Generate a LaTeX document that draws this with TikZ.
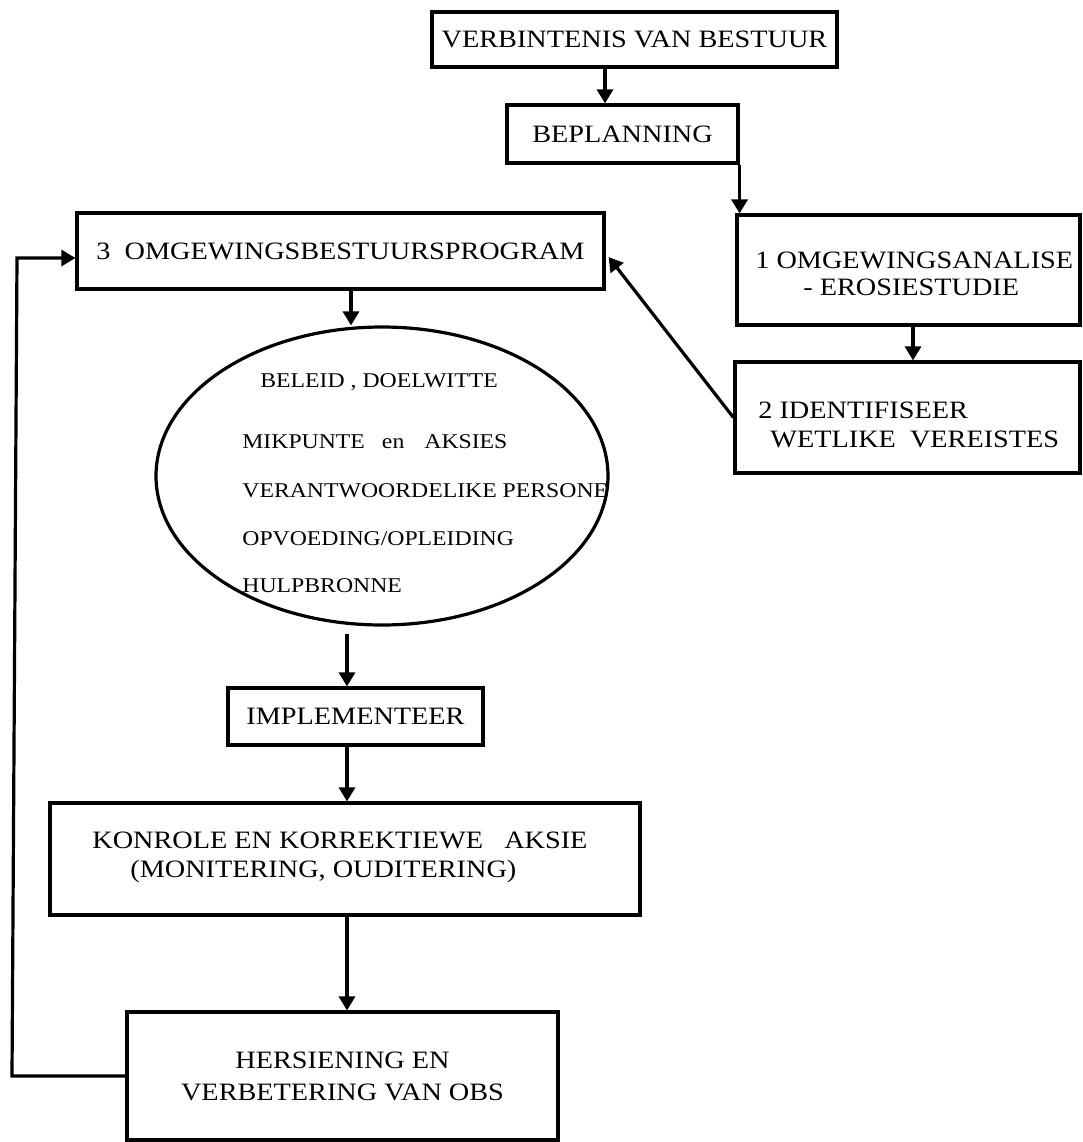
\documentclass[tikz,border=0pt]{standalone}
\usepackage{fontspec}
\setmainfont[FakeStretch=1.13]{Liberation Serif}
\usetikzlibrary{arrows.meta,shapes.geometric}
\begin{document}
\begin{tikzpicture}[x=0.5pt,y=-0.5pt,
  box/.style={draw,line width=1.6pt,rectangle,inner sep=0pt,font=\fontsize{12.5}{15}\selectfont},
  lbl/.style={inner sep=0pt,anchor=base west,font=\fontsize{12.5}{15}\selectfont},
  elt/.style={inner sep=0pt,anchor=base west,font=\fontsize{10.5}{12}\selectfont},
  arr/.style={line width=1.6pt,-{Triangle[length=7pt,width=8pt]}},
]
\useasboundingbox (0,0) rectangle (1083,1142);

% boxes
\node[box,minimum width=202.5pt,minimum height=27.5pt] (A) at (634.5,39.5) {VERBINTENIS VAN BESTUUR};
\node[box,minimum width=115.5pt,minimum height=29pt] (B) at (622.5,134) {BEPLANNING};
\node[box,minimum width=263.5pt,minimum height=38pt] (n3) at (340.5,251) {3\ \ OMGEWINGSBESTUURSPROGRAM};
\node[box,minimum width=171.5pt,minimum height=55pt] (n1) at (908.5,270) {};
\node[lbl] (t1a) at (755,268) {1 OMGEWINGSANALISE};
\node[lbl] (t1b) at (803,295) {- EROSIESTUDIE};
\node[box,minimum width=172.5pt,minimum height=55.5pt] (n2) at (907.5,417.5) {};
\node[lbl] (t2a) at (758,418) {2 IDENTIFISEER};
\node[lbl] (t2b) at (770,447) {WETLIKE\ \ VEREISTES};

% ellipse
\node[draw,line width=1.6pt,ellipse,inner sep=0pt,minimum width=226pt,minimum height=149pt] (ell) at (382,476) {};
\node[elt] (e1) at (260,387) {BELEID , DOELWITTE};
\node[elt] (e2) at (242,448) {MIKPUNTE\hspace{8.5pt}en\hspace{10pt}AKSIES};
\node[elt] (e3) at (242,497) {VERANTWOORDELIKE PERSONE};
\node[elt] (e4) at (242,545) {OPVOEDING/OPLEIDING};
\node[elt] (e5) at (242,592) {HULPBRONNE};

\node[box,minimum width=127.5pt,minimum height=28.5pt] (impl) at (355.5,716.5) {IMPLEMENTEER};
\node[box,minimum width=295pt,minimum height=56pt] (kon) at (345,859) {};
\node[lbl] (k1) at (92,848) {KONROLE EN KORREKTIEWE\ \ \ AKSIE};
\node[lbl] (k2) at (130,877) {(MONITERING, OUDITERING)};
\node[box,minimum width=215.5pt,minimum height=64pt,align=center,font=\fontsize{12.5}{16}\selectfont] (hers) at (342.5,1076) {HERSIENING EN\\VERBETERING VAN OBS};

% connectors
\coordinate (xAB) at (605,0);
\coordinate (x12) at (913,0);
\coordinate (x3e) at (351,0);
\coordinate (xim) at (347,0);
\coordinate (lp1) at (12,1076);
\coordinate (lp2) at (17,258);
\draw[arr] (A.south -| xAB) -- (B.north -| xAB);
\draw[arr] (B.south east) -- (B.south east |- n1.north);
\draw[arr] (n1.south -| x12) -- (n2.north -| x12);
\draw[arr] (n2.west) -- ([shift={(3,6)}]n3.east);
\draw[arr] (n3.south -| x3e) -- (ell.north -| x3e);
\draw[arr] ([shift={(-35,7)}]ell.south) -- (impl.north -| xim);
\draw[arr] (impl.south -| xim) -- (kon.north -| xim);
\draw[arr] (kon.south -| xim) -- (hers.north -| xim);
\draw[arr] (hers.west) -- (lp1) -- (lp2) -- ([shift={(0,7)}]n3.west);
\end{tikzpicture}
\end{document}
